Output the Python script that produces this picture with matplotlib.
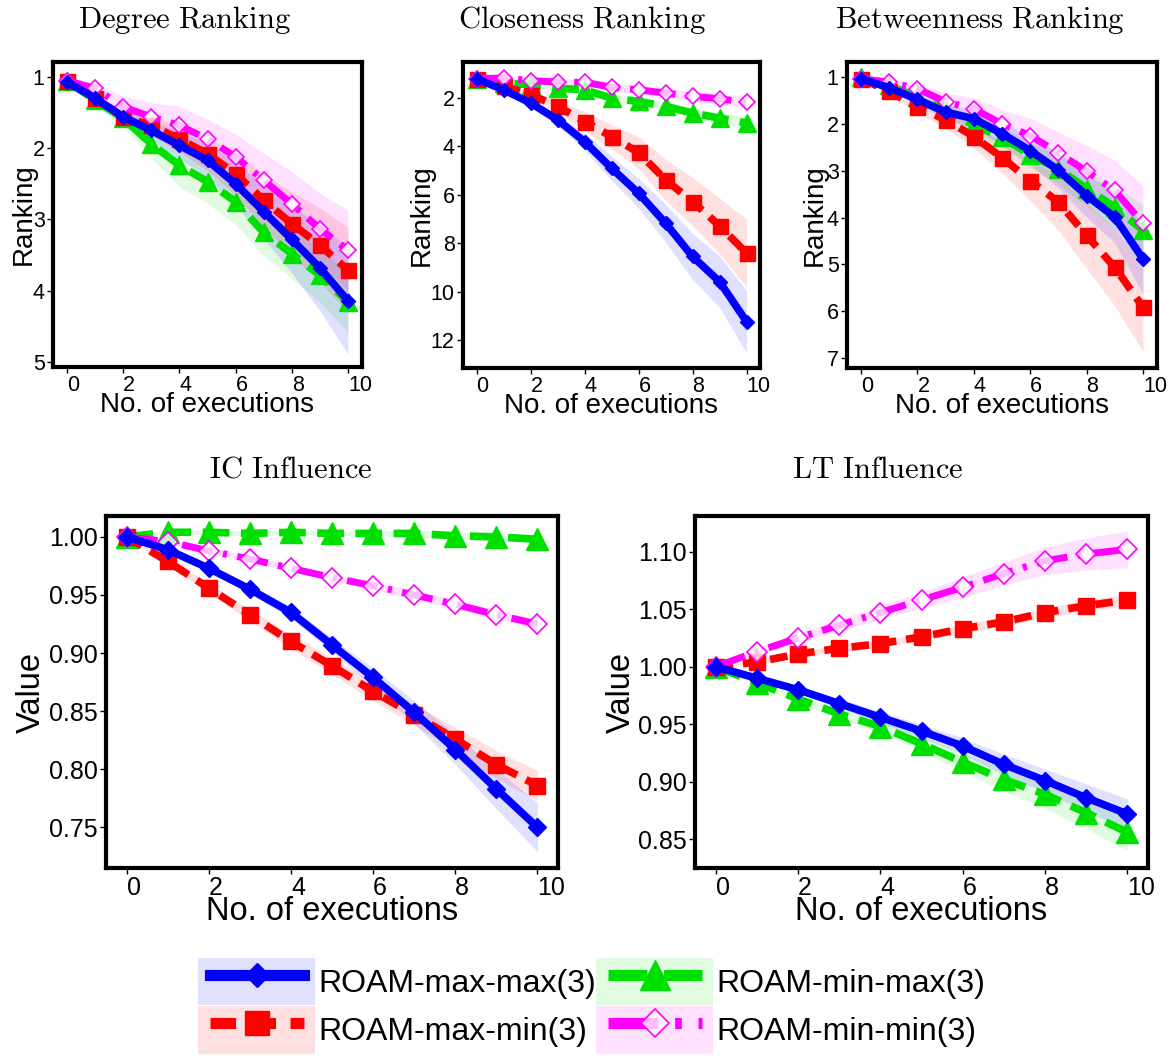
import matplotlib
matplotlib.use("Agg")
import matplotlib.pyplot as plt
from matplotlib.lines import Line2D
from matplotlib.patches import Rectangle
from matplotlib.legend_handler import HandlerLine2D

plt.rcParams['font.family'] = ['Liberation Sans', 'DejaVu Sans']
plt.rcParams['mathtext.fontset'] = 'cm'

# number of executions
executions = [0, 1, 2, 3, 4, 5, 6, 7, 8, 9, 10]

# degree ranking (mean, std)
deg_maxmax = [1.07, 1.30, 1.56, 1.75, 1.96, 2.17, 2.50, 2.89, 3.28, 3.68, 4.14]
deg_maxmax_sd = [0.0, 0.05, 0.10, 0.14, 0.19, 0.24, 0.30, 0.38, 0.47, 0.60, 0.75]
deg_maxmin = [1.05, 1.30, 1.56, 1.68, 1.87, 2.08, 2.36, 2.73, 3.06, 3.36, 3.71]
deg_maxmin_sd = [0.0, 0.05, 0.10, 0.14, 0.18, 0.23, 0.30, 0.37, 0.45, 0.52, 0.60]
deg_minmax = [1.05, 1.33, 1.58, 1.94, 2.24, 2.47, 2.75, 3.18, 3.48, 3.78, 4.16]
deg_minmax_sd = [0.0, 0.06, 0.12, 0.20, 0.30, 0.30, 0.32, 0.33, 0.35, 0.38, 0.42]
deg_minmin = [1.05, 1.16, 1.42, 1.56, 1.68, 1.87, 2.12, 2.45, 2.78, 3.13, 3.43]
deg_minmin_sd = [0.0, 0.08, 0.15, 0.20, 0.27, 0.28, 0.32, 0.38, 0.45, 0.50, 0.56]

# closeness ranking
clo_maxmax = [1.20, 1.66, 2.20, 2.90, 3.80, 4.90, 5.93, 7.17, 8.55, 9.59, 11.24]
clo_maxmax_sd = [0.0, 0.10, 0.15, 0.25, 0.35, 0.50, 0.62, 0.78, 0.95, 1.05, 1.30]
clo_maxmin = [1.20, 1.50, 1.86, 2.34, 2.97, 3.59, 4.25, 5.38, 6.28, 7.28, 8.41]
clo_maxmin_sd = [0.0, 0.10, 0.15, 0.25, 0.40, 0.50, 0.65, 0.85, 1.00, 1.15, 1.40]
clo_minmax = [1.20, 1.38, 1.45, 1.59, 1.66, 2.00, 2.14, 2.34, 2.62, 2.83, 3.03]
clo_minmax_sd = [0.0, 0.08, 0.10, 0.12, 0.14, 0.15, 0.17, 0.18, 0.20, 0.22, 0.24]
clo_minmin = [1.20, 1.17, 1.28, 1.34, 1.35, 1.55, 1.66, 1.79, 1.93, 2.03, 2.18]
clo_minmin_sd = [0.0, 0.08, 0.10, 0.12, 0.14, 0.15, 0.17, 0.18, 0.20, 0.22, 0.25]

# betweenness ranking
bet_maxmax = [1.04, 1.23, 1.48, 1.75, 1.89, 2.21, 2.57, 2.99, 3.53, 3.99, 4.88]
bet_maxmax_sd = [0.0, 0.05, 0.10, 0.15, 0.20, 0.25, 0.30, 0.38, 0.46, 0.55, 0.75]
bet_maxmin = [1.04, 1.30, 1.65, 1.91, 2.27, 2.72, 3.21, 3.67, 4.38, 5.06, 5.91]
bet_maxmin_sd = [0.0, 0.06, 0.12, 0.18, 0.25, 0.33, 0.42, 0.60, 0.70, 0.82, 0.95]
bet_minmax = [1.01, 1.18, 1.43, 1.71, 2.03, 2.28, 2.67, 2.96, 3.38, 3.78, 4.27]
bet_minmax_sd = [0.0, 0.05, 0.10, 0.14, 0.18, 0.22, 0.27, 0.32, 0.38, 0.45, 0.55]
bet_minmin = [1.04, 1.11, 1.25, 1.53, 1.68, 2.00, 2.25, 2.62, 3.01, 3.42, 4.12]
bet_minmin_sd = [0.0, 0.06, 0.12, 0.18, 0.24, 0.30, 0.37, 0.45, 0.55, 0.65, 0.80]

# IC influence (relative value)
ic_maxmax = [1.000, 0.989, 0.973, 0.955, 0.935, 0.907, 0.879, 0.849, 0.817, 0.783, 0.750]
ic_maxmax_sd = [0.0, 0.002, 0.003, 0.004, 0.005, 0.006, 0.008, 0.010, 0.013, 0.017, 0.021]
ic_maxmin = [1.000, 0.979, 0.956, 0.933, 0.910, 0.889, 0.867, 0.847, 0.826, 0.804, 0.786]
ic_maxmin_sd = [0.0, 0.003, 0.004, 0.005, 0.006, 0.007, 0.008, 0.009, 0.010, 0.012, 0.013]
ic_minmax = [1.000, 1.004, 1.004, 1.003, 1.004, 1.003, 1.003, 1.003, 1.001, 1.000, 0.998]
ic_minmax_sd = [0.0, 0.002, 0.002, 0.002, 0.002, 0.002, 0.002, 0.003, 0.003, 0.003, 0.003]
ic_minmin = [1.000, 0.996, 0.988, 0.981, 0.973, 0.965, 0.958, 0.950, 0.942, 0.933, 0.925]
ic_minmin_sd = [0.0, 0.002, 0.002, 0.003, 0.003, 0.003, 0.003, 0.004, 0.004, 0.004, 0.004]

# LT influence (relative value)
lt_maxmax = [1.000, 0.990, 0.980, 0.968, 0.956, 0.944, 0.931, 0.915, 0.901, 0.886, 0.872]
lt_maxmax_sd = [0.0, 0.002, 0.003, 0.004, 0.005, 0.006, 0.007, 0.009, 0.010, 0.012, 0.013]
lt_maxmin = [1.000, 1.004, 1.011, 1.016, 1.020, 1.026, 1.033, 1.039, 1.047, 1.053, 1.058]
lt_maxmin_sd = [0.0, 0.002, 0.002, 0.003, 0.003, 0.003, 0.004, 0.004, 0.004, 0.005, 0.005]
lt_minmax = [1.000, 0.986, 0.972, 0.959, 0.948, 0.933, 0.917, 0.902, 0.889, 0.873, 0.856]
lt_minmax_sd = [0.0, 0.002, 0.003, 0.004, 0.005, 0.007, 0.008, 0.010, 0.012, 0.014, 0.016]
lt_minmin = [1.000, 1.013, 1.025, 1.036, 1.047, 1.058, 1.069, 1.081, 1.092, 1.098, 1.102]
lt_minmin_sd = [0.0, 0.003, 0.004, 0.005, 0.006, 0.007, 0.009, 0.010, 0.012, 0.014, 0.016]

names = ['ROAM-max-max(3)', 'ROAM-max-min(3)', 'ROAM-min-max(3)', 'ROAM-min-min(3)']
colors = ['#0000ff', '#ff0000', '#00e000', '#ff00ff']
dashes = [None, (2.3, 1.3), (3.5, 1.5), (4.5, 1.5, 0.6, 1.5)]
markers = ['D', 's', '^', 'D']
band_alpha = 0.12


def band_color(c):
    r, g, b = matplotlib.colors.to_rgb(c)
    return (1 - band_alpha * (1 - r), 1 - band_alpha * (1 - g), 1 - band_alpha * (1 - b))


def line_kw(i, big):
    ms_small = [6.8, 10.8, 13, 8]
    ms_big = [9, 11.5, 16, 10]
    kw = dict(color=colors[i], lw=5.5 if i != 3 else 5, marker=markers[i],
              ms=(ms_big if big else ms_small)[i], mec=colors[i], mfc=colors[i])
    if i == 3:
        kw['mfc'] = (1, 1, 1, 0.75)
        kw['mew'] = 1.2
    if dashes[i] is not None:
        kw['dashes'] = dashes[i]
    return kw


def draw_panel(ax, series, ylim, yticks, ylabels, ylabel, big):
    # draw order: green, red, magenta, blue
    for i in [2, 1, 3, 0]:
        mean, sd = series[i]
        lo = [m - s for m, s in zip(mean, sd)]
        hi = [m + s for m, s in zip(mean, sd)]
        ax.fill_between(executions, lo, hi, color=colors[i], alpha=band_alpha, lw=0)
    for i in [2, 1, 3, 0]:
        mean, sd = series[i]
        ax.plot(executions, mean, **line_kw(i, big))
    ax.set_xlim(-0.5, 10.5)
    ax.set_ylim(*ylim)
    tick_fs = 18 if big else 15.5
    ax.set_xticks([0, 2, 4, 6, 8, 10], ['0', '2', '4', '6', '8', '10'], ha='left')
    ax.set_yticks(yticks, ylabels)
    ax.tick_params(labelsize=tick_fs, length=4, width=1, pad=2, direction='out')
    for s in ax.spines.values():
        s.set_linewidth(3)
    lab_fs = 23.5 if big else 20
    ax.set_xlabel('No. of executions', fontsize=lab_fs)
    ax.set_ylabel(ylabel, fontsize=lab_fs)


W, H = 1176, 1056
fig = plt.figure(figsize=(W / 100, H / 100), dpi=100)


def add_axes(l, t, r, b):
    return fig.add_axes([l / W, 1 - b / H, (r - l) / W, (b - t) / H])


ax_deg = add_axes(53, 62, 362, 367)
ax_clo = add_axes(463, 62, 760, 368)
ax_bet = add_axes(847, 62, 1157, 368)
ax_ic = add_axes(106, 516, 558, 868)
ax_lt = add_axes(695, 516, 1148, 868)

draw_panel(ax_deg, [(deg_maxmax, deg_maxmax_sd), (deg_maxmin, deg_maxmin_sd),
                    (deg_minmax, deg_minmax_sd), (deg_minmin, deg_minmin_sd)],
           (5.07, 0.79), [1, 2, 3, 4, 5], ['1', '2', '3', '4', '5'], 'Ranking', False)
draw_panel(ax_clo, [(clo_maxmax, clo_maxmax_sd), (clo_maxmin, clo_maxmin_sd),
                    (clo_minmax, clo_minmax_sd), (clo_minmin, clo_minmin_sd)],
           (13.16, 0.51), [2, 4, 6, 8, 10, 12], ['2', '4', '6', '8', '10', '12'], 'Ranking', False)
draw_panel(ax_bet, [(bet_maxmax, bet_maxmax_sd), (bet_maxmin, bet_maxmin_sd),
                    (bet_minmax, bet_minmax_sd), (bet_minmin, bet_minmin_sd)],
           (7.21, 0.68), [1, 2, 3, 4, 5, 6, 7], ['1', '2', '3', '4', '5', '6', '7'], 'Ranking', False)
draw_panel(ax_ic, [(ic_maxmax, ic_maxmax_sd), (ic_maxmin, ic_maxmin_sd),
                   (ic_minmax, ic_minmax_sd), (ic_minmin, ic_minmin_sd)],
           (0.715, 1.018), [0.75, 0.80, 0.85, 0.90, 0.95, 1.00],
           ['0.75', '0.80', '0.85', '0.90', '0.95', '1.00'], 'Value', True)
draw_panel(ax_lt, [(lt_maxmax, lt_maxmax_sd), (lt_maxmin, lt_maxmin_sd),
                   (lt_minmax, lt_minmax_sd), (lt_minmin, lt_minmin_sd)],
           (0.825, 1.131), [0.85, 0.90, 0.95, 1.00, 1.05, 1.10],
           ['0.85', '0.90', '0.95', '1.00', '1.05', '1.10'], 'Value', True)

# label placement
ax_deg.yaxis.set_label_coords(-0.052, 0.5)
ax_clo.yaxis.set_label_coords(-0.094, 0.5)
ax_bet.yaxis.set_label_coords(-0.061, 0.5)
ax_ic.yaxis.set_label_coords(-0.13, 0.5)
ax_lt.yaxis.set_label_coords(-0.128, 0.5)
for ax in (ax_deg, ax_clo, ax_bet):
    ax.xaxis.set_label_coords(0.5, -0.082)
for ax in (ax_ic, ax_lt):
    ax.xaxis.set_label_coords(0.5, -0.08)

# panel titles
titles = [('Degree\\ Ranking', 185, 20), ('Closeness\\ Ranking', 582, 20),
          ('Betweenness\\ Ranking', 980, 20), ('IC\\ Influence', 291, 470),
          ('LT\\ Influence', 878, 470)]
for t, x, y in titles:
    fig.text(x / W, 1 - y / H, r'$\mathrm{' + t + '}$', fontsize=22, ha='center', va='center')


class BandHandler(HandlerLine2D):
    def __init__(self, band, **kw):
        super().__init__(**kw)
        self.band = band

    def create_artists(self, legend, orig_handle, xdescent, ydescent, width, height, fontsize, trans):
        bg = Rectangle((-xdescent, -ydescent), width, height, facecolor=self.band,
                       edgecolor='none', transform=trans)
        pad = 0.1 * width
        arts = super().create_artists(legend, orig_handle, xdescent - pad, ydescent,
                                      width - 2 * pad, height, fontsize, trans)
        return [bg, *arts]


leg_ms = [12, 17, 22, 14]
handles = []
handler_map = {}
for i in range(4):
    kw = line_kw(i, True)
    kw['lw'] = 8
    kw['ms'] = leg_ms[i]
    h = Line2D([], [], **kw)
    handles.append(h)
    handler_map[h] = BandHandler(band_color(colors[i]), numpoints=1)

fig.legend(handles, names, handler_map=handler_map, ncol=2, loc='upper left',
           bbox_to_anchor=(198 / W, 1 - 958 / H), frameon=False, fontsize=23,
           handlelength=3.67, handleheight=1.9, handletextpad=0.1, labelspacing=0.03,
           columnspacing=0.0, borderpad=0, borderaxespad=0)

fig.savefig('out.png', dpi=100)
